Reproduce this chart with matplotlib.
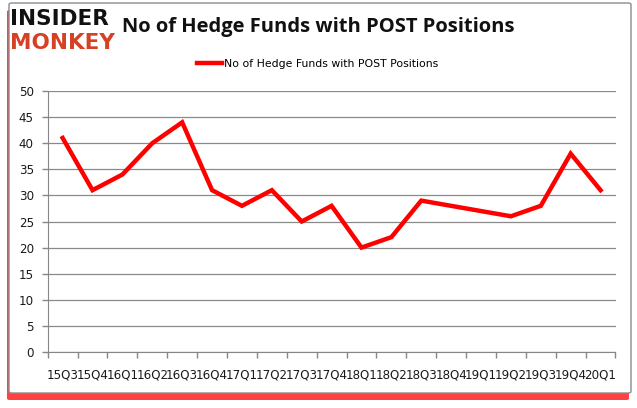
import matplotlib
matplotlib.use('Agg')
import matplotlib.pyplot as plt
from matplotlib.patches import FancyBboxPatch
import numpy as np

quarters = ['15Q3', '15Q4', '16Q1', '16Q2', '16Q3', '16Q4', '17Q1', '17Q2',
            '17Q3', '17Q4', '18Q1', '18Q2', '18Q3', '18Q4', '19Q1', '19Q2',
            '19Q3', '19Q4', '20Q1']
funds = [41, 31, 34, 40, 44, 31, 28, 31, 25, 28, 20, 22, 29, 28, 27, 26,
         28, 38, 31]
series_name = 'No of Hedge Funds with POST Positions'
yticks = list(range(0, 51, 5))

W, H = 637, 408
fig = plt.figure(figsize=(W / 100, H / 100), dpi=100)

# frame with red shadow
shadow = FancyBboxPatch((7 / W, 8 / H), 622 / W, 390 / H,
                        boxstyle='round,pad=0,rounding_size=0.004',
                        transform=fig.transFigure, facecolor='#ff2020',
                        edgecolor='none', alpha=0.85, zorder=0)
fig.patches.append(shadow)
frame = FancyBboxPatch((9 / W, 15 / H), 622 / W, 390 / H,
                       boxstyle='round,pad=0,rounding_size=0.004',
                       transform=fig.transFigure, facecolor='white',
                       edgecolor='#8c8c8c', linewidth=1.0, zorder=1)
fig.patches.append(frame)

ax = fig.add_axes([47.7 / W, 56 / H, 567.8 / W, 261 / H])
ax.set_zorder(2)
ax.patch.set_visible(False)

x = np.arange(len(quarters))
line, = ax.plot(x, funds, color='#ff0000', linewidth=3.2,
                solid_joinstyle='miter', label=series_name)

ax.set_xlim(-0.5, len(quarters) - 0.5)
ax.set_ylim(0, 50)
ax.set_yticks(yticks)
ax.set_xticks(x)
ax.set_xticklabels(quarters)
ax.set_xticks(np.arange(-0.5, len(quarters)), minor=True)
ax.tick_params(axis='x', which='major', length=0, pad=12, labelsize=8.6,
               labelcolor='#1a1a1a')
ax.tick_params(axis='x', which='minor', length=4, color='#868686', width=1)
ax.tick_params(axis='y', length=4, color='#868686', width=1, labelsize=8.6,
               labelcolor='#1a1a1a', pad=6)
ax.grid(axis='y', color='#8a8a8a', linewidth=0.9)
ax.set_axisbelow(True)
for s in ['top', 'right']:
    ax.spines[s].set_visible(False)
ax.spines['left'].set_color('#868686')
ax.spines['bottom'].set_color('#868686')

fig.legend(handles=[line], loc='center', bbox_to_anchor=(318 / W, 1 - 64 / H),
           frameon=False, fontsize=7.8, handlelength=2.3, handletextpad=0.2)

fig.text(122 / W, 1 - 27 / H, 'No of Hedge Funds with POST Positions',
         fontsize=14.5, fontweight='bold', family='Open Sans', va='center',
         color='#111111')
fig.text(10 / W, 1 - 19 / H, 'INSIDER', fontsize=15.5, fontweight='heavy',
         family='DejaVu Sans', va='center', color='#111111')
fig.text(10 / W, 1 - 43 / H, 'MONKEY', fontsize=15.5, fontweight='heavy',
         family='DejaVu Sans', va='center', color='#d64126')

fig.savefig('out.png', dpi=100)
